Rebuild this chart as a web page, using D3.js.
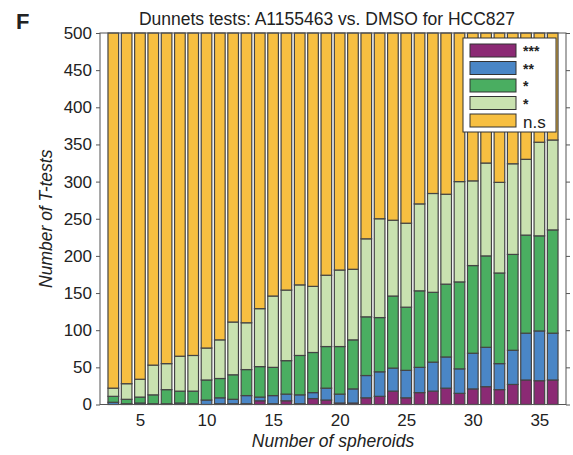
<!DOCTYPE html>
<html>
<head>
<meta charset="utf-8">
<script src="https://cdn.jsdelivr.net/npm/d3@7"></script>
<style>
  html, body { margin: 0; padding: 0; background: #fff; }
  svg { display: block; font-family: "Liberation Sans", Arial, Helvetica, sans-serif; }
</style>
</head>
<body>
<svg id="chart" width="573" height="455"></svg>
<script>
// ── Data ───────────────────────────────────────────────────
const spheroids = d3.range(3, 37);            // 3 … 36
const seriesKeys = ['p3', 'p2', 'p1b', 'p1a', 'ns'];
const seriesLabels = ['***', '**', '*', '*', 'n.s'];
const seriesColors = ['#8b2a74', '#4a86c6', '#4aae61', '#c9e2b0', '#f7bf41'];

const p3  = [0,0,0,0,0,0,0,0,1,1,1,5,1,5,1,8,6,2,2,9,11,18,9,16,18,22,15,21,24,20,27,33,32,33];
const p2  = [3,1,2,1,1,2,1,6,8,6,11,5,11,9,12,8,16,12,19,30,33,31,37,34,39,42,33,48,53,35,46,63,67,63];
const p1b = [8,6,8,12,19,16,17,27,26,33,35,41,38,45,53,54,56,64,66,79,73,97,85,103,94,98,117,118,123,122,129,132,128,139];
const p1a = [11,21,24,40,35,47,48,43,52,71,63,78,96,95,95,89,96,103,95,105,133,102,113,117,133,121,135,114,125,122,122,102,126,121];
const ns  = [478,472,466,447,445,435,434,424,413,389,390,371,354,346,339,341,326,319,318,277,250,252,256,230,216,217,200,199,175,201,176,170,147,144];

const yTicks = [0, 50, 100, 150, 200, 250, 300, 350, 400, 450, 500];
const xTicks = [5, 10, 15, 20, 25, 30, 35];

// ── Layout ─────────────────────────────────────────────────
const svg = d3.select('#chart');
const L = 100, R = 566, T = 33, B = 404.5;

const x = d3.scaleLinear().domain([2, 37]).range([L, R]);
const y = d3.scaleLinear().domain([0, 500]).range([B, T]);
const barW = x(2.8) - x(2);

const rows = spheroids.map((n, i) => ({ n, p3: p3[i], p2: p2[i], p1b: p1b[i], p1a: p1a[i], ns: ns[i] }));
const stacked = d3.stack().keys(seriesKeys)(rows);

// bars
svg.append('g')
  .selectAll('g')
  .data(stacked)
  .join('g')
    .attr('fill', (d, i) => seriesColors[i])
  .selectAll('rect')
  .data(d => d)
  .join('rect')
    .attr('x', d => x(d.data.n) - barW / 2)
    .attr('width', barW)
    .attr('y', d => y(d[1]))
    .attr('height', d => y(d[0]) - y(d[1]))
    .attr('stroke', '#444')
    .attr('stroke-width', 1.2);

// axes box
svg.append('rect')
  .attr('x', L).attr('y', T)
  .attr('width', R - L).attr('height', B - T)
  .attr('fill', 'none')
  .attr('stroke', '#555')
  .attr('stroke-width', 1);

const yAxis = svg.append('g')
  .attr('transform', `translate(${L},0)`)
  .call(d3.axisLeft(y).tickValues(yTicks).tickSize(4).tickPadding(4));
const yAxisR = svg.append('g')
  .attr('transform', `translate(${R},0)`)
  .call(d3.axisLeft(y).tickValues(yTicks).tickSize(-4).tickFormat(''));
const xAxis = svg.append('g')
  .attr('transform', `translate(0,${B})`)
  .call(d3.axisBottom(x).tickValues(xTicks).tickSize(0).tickPadding(9));

[yAxis, yAxisR, xAxis].forEach(a => {
  a.select('.domain').remove();
  a.selectAll('line').attr('stroke', '#555');
  a.selectAll('text')
    .attr('font-size', 17)
    .attr('fill', '#222')
    .attr('font-family', '"Liberation Sans", Arial, sans-serif');
});

// titles
svg.append('text')
  .attr('x', 327).attr('y', 25)
  .attr('text-anchor', 'middle')
  .attr('font-size', 17.5)
  .attr('fill', '#222')
  .text('Dunnets tests: A1155463 vs. DMSO for HCC827');

svg.append('text')
  .attr('x', 16).attr('y', 29)
  .attr('font-size', 22)
  .attr('font-weight', 'bold')
  .attr('fill', '#222')
  .text('F');

svg.append('text')
  .attr('x', (L + R) / 2).attr('y', 447)
  .attr('text-anchor', 'middle')
  .attr('font-size', 17.5)
  .attr('font-style', 'italic')
  .attr('fill', '#222')
  .text('Number of spheroids');

svg.append('text')
  .attr('transform', `translate(52,${(T + B) / 2}) rotate(-90)`)
  .attr('text-anchor', 'middle')
  .attr('font-size', 17.5)
  .attr('font-style', 'italic')
  .attr('fill', '#222')
  .text('Number of T-tests');

// legend
const lg = svg.append('g').attr('transform', 'translate(463,38)');
lg.append('rect')
  .attr('width', 93).attr('height', 94)
  .attr('fill', '#fff')
  .attr('stroke', '#333')
  .attr('stroke-width', 1);

seriesLabels.forEach((lab, i) => {
  const row = lg.append('g').attr('transform', `translate(7,${6 + i * 17.5})`);
  row.append('rect')
    .attr('width', 46).attr('height', 13)
    .attr('fill', seriesColors[i])
    .attr('stroke', '#333')
    .attr('stroke-width', 1);
  const isStar = lab !== 'n.s';
  row.append('text')
    .attr('x', 53)
    .attr('y', isStar ? 12 : 13.5)
    .attr('font-size', isStar ? 14 : 17)
    .attr('font-weight', isStar ? 'bold' : 'normal')
    .attr('fill', '#222')
    .text(lab);
});
</script>
</body>
</html>
